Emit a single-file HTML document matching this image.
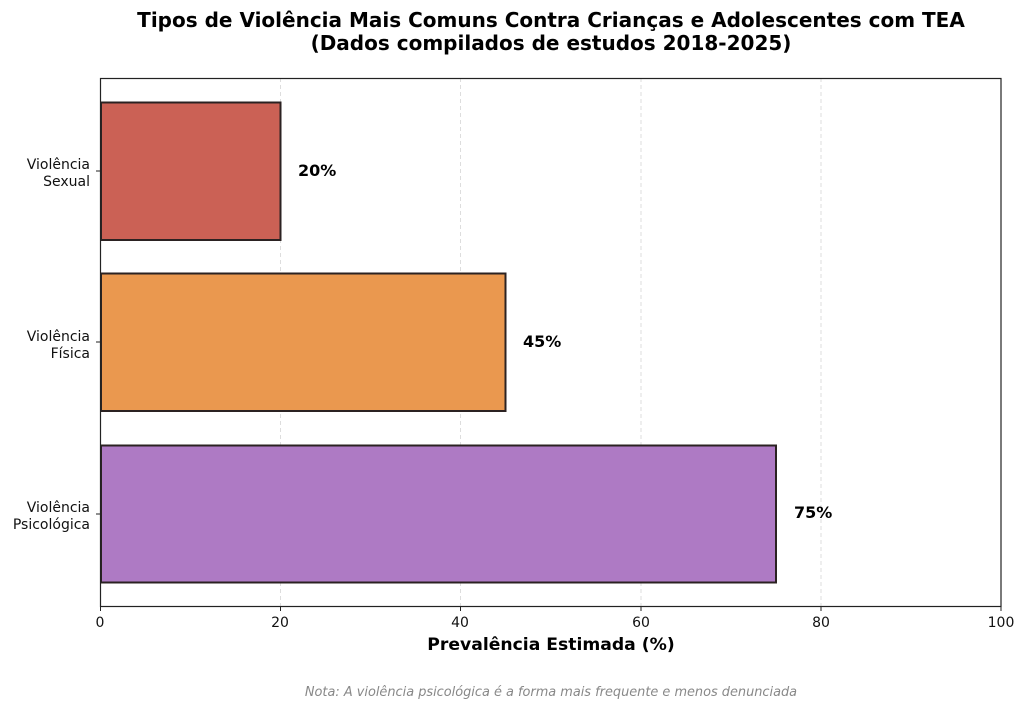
<!DOCTYPE html>
<html><head><meta charset="utf-8"><style>
html,body{margin:0;padding:0;background:#fff}
svg{display:block;font-family:"DejaVu Sans","Liberation Sans",sans-serif}
</style></head><body>
<svg width="1024" height="709" viewBox="0 0 1024 709">
<text x="551" y="27" text-anchor="middle" font-size="20" font-weight="bold">Tipos de Violência Mais Comuns Contra Crianças e Adolescentes com TEA</text>
<text x="551" y="50" text-anchor="middle" font-size="20" font-weight="bold">(Dados compilados de estudos 2018-2025)</text>
<g stroke="#ddd" stroke-dasharray="4,3" stroke-width="1">
<line x1="280.5" y1="78" x2="280.5" y2="606"/><line x1="460.5" y1="78" x2="460.5" y2="606"/>
<line x1="641" y1="78" x2="641" y2="606"/><line x1="821" y1="78" x2="821" y2="606"/>
</g>
<g stroke="#2b2222" stroke-width="2">
<rect x="101" y="102.5" width="179.5" height="137.5" fill="#cb6155"/>
<rect x="101" y="273.5" width="404.5" height="137.5" fill="#ea984f"/>
<rect x="101" y="445.5" width="675" height="137" fill="#ae7ac4"/>
</g>
<rect x="100.5" y="78.5" width="900.5" height="528" fill="none" stroke="#222" stroke-width="1.2"/>
<g font-size="16" font-weight="bold">
<text x="298" y="176">20%</text><text x="523" y="347">45%</text><text x="794" y="518">75%</text>
</g>
<g font-size="14" text-anchor="end" fill="#111">
<text x="90" y="169">Violência</text><text x="90" y="186">Sexual</text>
<text x="90" y="341">Violência</text><text x="90" y="358">Física</text>
<text x="90" y="512">Violência</text><text x="90" y="529">Psicológica</text>
</g>
<g stroke="#222"><line x1="96" y1="171" x2="100" y2="171"/><line x1="96" y1="342" x2="100" y2="342"/><line x1="96" y1="514" x2="100" y2="514"/>
<line x1="100.5" y1="606" x2="100.5" y2="611"/><line x1="280.5" y1="606" x2="280.5" y2="611"/><line x1="460.5" y1="606" x2="460.5" y2="611"/><line x1="641" y1="606" x2="641" y2="611"/><line x1="821" y1="606" x2="821" y2="611"/><line x1="1001" y1="606" x2="1001" y2="611"/></g>
<g font-size="14" text-anchor="middle" fill="#111">
<text x="100" y="627">0</text><text x="280" y="627">20</text><text x="460" y="627">40</text><text x="641" y="627">60</text><text x="821" y="627">80</text><text x="1001" y="627">100</text>
</g>
<text x="551" y="650" text-anchor="middle" font-size="17.2" font-weight="bold">Prevalência Estimada (%)</text>
<text x="551" y="696" text-anchor="middle" font-size="12.9" font-style="italic" fill="#888">Nota: A violência psicológica é a forma mais frequente e menos denunciada</text>
</svg>
</body></html>
